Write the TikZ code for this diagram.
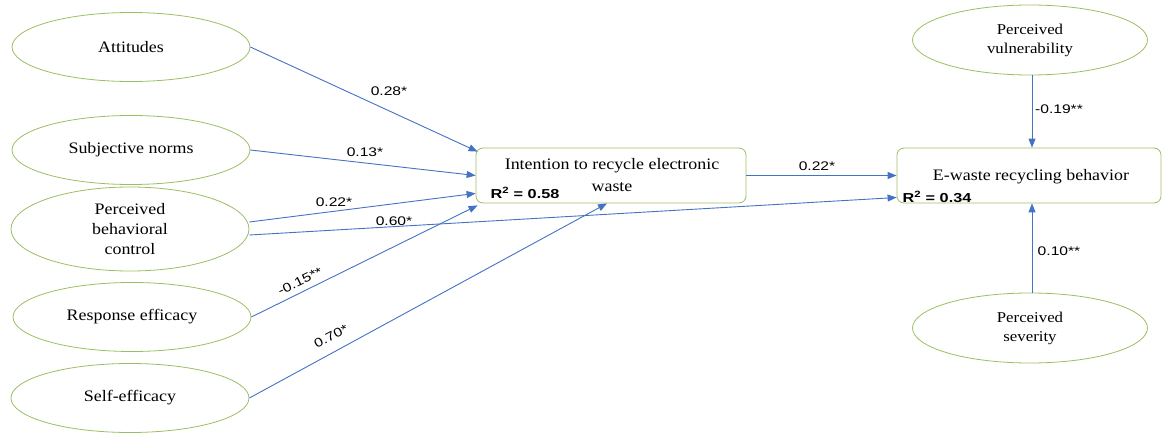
\documentclass[tikz,border=0pt]{standalone}
\usepackage{fontspec}
\setmainfont{Liberation Serif}[FakeStretch=1.12]
\newfontfamily\lblfont{Liberation Sans}[FakeStretch=1.25]
\usetikzlibrary{shapes.geometric,arrows.meta}
\definecolor{ovalgreen}{RGB}{155,190,100}
\definecolor{arrowblue}{RGB}{68,114,196}
\tikzset{
  oval/.style={ellipse, draw=ovalgreen, line width=0.8pt, inner sep=0pt,
    minimum width=238pt, minimum height=69pt, align=center,
    font=\fontsize{16}{20}\selectfont},
  rbox/.style={rectangle, rounded corners=7pt, draw=ovalgreen, line width=0.8pt,
    inner sep=0pt},
  path/.style={draw=arrowblue, line width=0.9pt,
    -{Triangle[length=9pt,width=7pt]}},
  coef/.style={font=\lblfont\fontsize{12.5}{14}\selectfont, inner sep=1pt},
  rsq/.style={font=\lblfont\bfseries\fontsize{13}{15}\selectfont, inner sep=0pt},
  boxtxt/.style={font=\fontsize{16}{19}\selectfont, inner sep=0pt},
}
\begin{document}
\begin{tikzpicture}[x=1pt,y=-1pt]
\useasboundingbox (0,0) rectangle (1162,433);

% left constructs
\node[oval] (att) at (131,47) {Attitudes};
\node[oval] (sn)  at (131,150) {Subjective norms};
\node[oval, minimum height=84pt] (pbc) at (130,229) {Perceived\\behavioral\\control};
\node[oval] (re)  at (132,317) {Response efficacy};
\node[oval] (se)  at (130,398) {Self-efficacy};

% right constructs
\node[oval, minimum width=235pt, minimum height=70pt, font=\fontsize{15}{19}\selectfont] (pv) at (1030,40) {Perceived\\vulnerability};
\node[oval, minimum width=235pt, minimum height=70pt, font=\fontsize{15}{19}\selectfont] (ps) at (1030,328) {Perceived\\severity};

% central boxes
\node[rbox, minimum width=270pt, minimum height=55pt] (int) at (611,175.5) {};
\node[boxtxt] (intt1) at (612,166) {Intention to recycle electronic};
\node[boxtxt] (intt2) at (612,187) {waste};
\node[rsq] (intr) at (525,193) {R\textsuperscript{2} = 0.58};

\node[rbox, minimum width=264pt, minimum height=55pt] (ew) at (1029,175.5) {};
\node[boxtxt] (ewt) at (1031,177) {E-waste recycling behavior};
\node[rsq] (ewr) at (937,197) {R\textsuperscript{2} = 0.34};

% paths
\draw[path] (att.east) -- ([xshift=2pt,yshift=-4pt]int.north west);
\draw[path] (sn.east) -- (int.west);
\draw[path] ([yshift=7pt]pbc.east) -- ([yshift=10pt]int.south west);
\draw[path] ([yshift=-6pt]pbc.east) -- ([yshift=-22pt]ew.west);
\draw[path] (re.east) -- ([xshift=2pt,yshift=-2pt]int.south west);
\draw[path] (se.east) -- ([xshift=-4pt]int.south);
\draw[path] (int.east) -- (ew.west);
\draw[path] ([xshift=2pt]pv.south) -- ([xshift=2pt]pv.south |- ew.north);
\draw[path] ([xshift=2pt]ps.north) -- ([xshift=2pt]ps.north |- ew.south);

% coefficients
\node[coef] (c1) at (389,91) {0.28*};
\node[coef] (c2) at (365,152) {0.13*};
\node[coef] (c3) at (334,202) {0.22*};
\node[coef] (c4) at (394,221) {0.60*};
\node[coef, rotate=26] (c5) at (300,281) {-0.15**};
\node[coef, rotate=28] (c6) at (331,336) {0.70*};
\node[coef] (c7) at (817,166) {0.22*};
\node[coef] (c8) at (1059,109) {-0.19**};
\node[coef] (c9) at (1059,251) {0.10**};
\end{tikzpicture}
\end{document}
